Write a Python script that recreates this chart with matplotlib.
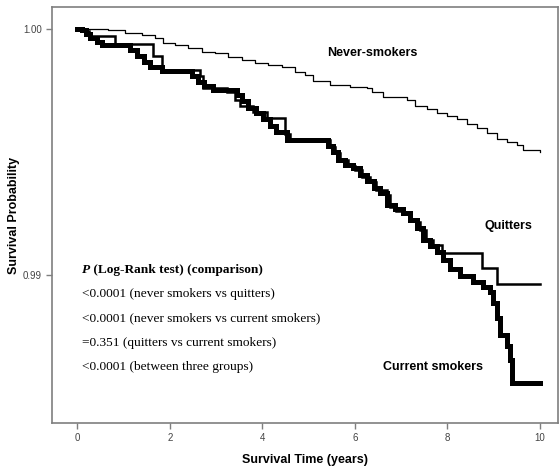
import numpy as np
import matplotlib
matplotlib.use('Agg')
import matplotlib.pyplot as plt

plt.rcParams['font.family'] = ['Liberation Sans', 'DejaVu Sans']

# Kaplan-Meier curves (years, survival probability)
never_t = [0, 0.38, 0.66, 1.03, 1.39, 1.68, 1.85, 2.11, 2.39, 2.69, 2.97, 3.25, 3.56, 3.84,
           4.12, 4.42, 4.70, 4.92, 5.09, 5.46, 5.89, 6.26, 6.37, 6.61, 7.12, 7.30, 7.56,
           7.77, 7.99, 8.21, 8.42, 8.64, 8.85, 9.07, 9.28, 9.50, 9.63, 10.0]
never_s = [1.0, 0.99998, 0.99994, 0.99984, 0.99976, 0.99963, 0.99943, 0.99935, 0.99923,
           0.99907, 0.99902, 0.99886, 0.99874, 0.99862, 0.99854, 0.99846, 0.99825, 0.99813,
           0.99789, 0.99772, 0.99764, 0.99760, 0.99744, 0.99724, 0.99711, 0.99687, 0.99675,
           0.99659, 0.99646, 0.99634, 0.99614, 0.99598, 0.99577, 0.99553, 0.99541, 0.99528,
           0.99508, 0.99500]

current_t = [0, 0.10, 0.18, 0.27, 0.42, 0.53, 1.14, 1.29, 1.44, 1.57, 1.83, 2.48, 2.61,
             2.74, 2.93, 3.45, 3.56, 3.69, 3.86, 4.01, 4.16, 4.29, 4.53, 5.42, 5.52, 5.63,
             5.78, 5.96, 6.11, 6.26, 6.41, 6.54, 6.69, 6.86, 7.04, 7.19, 7.34, 7.47, 7.62,
             7.77, 7.90, 8.05, 8.27, 8.55, 8.77, 8.92, 8.98, 9.07, 9.14, 9.29, 9.35, 9.39, 10.0]
current_s = [1.0, 0.99996, 0.99980, 0.99963, 0.99947, 0.99935, 0.99915, 0.99890, 0.99866,
             0.99846, 0.99829, 0.99809, 0.99785, 0.99768, 0.99752, 0.99732, 0.99707, 0.99679,
             0.99659, 0.99634, 0.99606, 0.99581, 0.99549, 0.99524, 0.99500, 0.99467, 0.99447,
             0.99435, 0.99407, 0.99382, 0.99354, 0.99333, 0.99285, 0.99268, 0.99252, 0.99224,
             0.99191, 0.99142, 0.99118, 0.99093, 0.99061, 0.99024, 0.98996, 0.98972, 0.98951,
             0.98931, 0.98886, 0.98825, 0.98756, 0.98711, 0.98654, 0.98561, 0.98561]

quit_t = [0, 0.12, 0.25, 0.81, 1.63, 1.83, 2.65, 2.71, 3.23, 3.41, 3.51, 3.79, 4.10, 4.49,
          4.59, 5.46, 5.57, 5.68, 5.85, 6.00, 6.15, 6.32, 6.45, 6.69, 6.76, 6.89, 7.04, 7.19,
          7.34, 7.41, 7.54, 7.68, 7.88, 8.74, 9.07, 10.0]
quit_s = [1.0, 0.99992, 0.99972, 0.99939, 0.99890, 0.99833, 0.99809, 0.99760, 0.99744,
          0.99711, 0.99687, 0.99663, 0.99638, 0.99573, 0.99549, 0.99520, 0.99496, 0.99467,
          0.99443, 0.99427, 0.99398, 0.99378, 0.99346, 0.99325, 0.99276, 0.99260, 0.99248,
          0.99224, 0.99215, 0.99183, 0.99142, 0.99122, 0.99089, 0.99028, 0.98963, 0.98963]

stats_lines = ['<0.0001 (never smokers vs quitters)',
               '<0.0001 (never smokers vs current smokers)',
               '=0.351 (quitters vs current smokers)',
               '<0.0001 (between three groups)']

fig = plt.figure(figsize=(5.59, 4.70), dpi=100)
ax = fig.add_axes([52/559, 47/470, 506/559, 416/470])

ax.plot(current_t, current_s, color='black', lw=3.6, drawstyle='steps-post',
        solid_joinstyle='miter')
ax.plot(quit_t, quit_s, color='black', lw=1.8, drawstyle='steps-post',
        solid_joinstyle='miter')
ax.plot(never_t, never_s, color='black', lw=0.9, drawstyle='steps-post')

ax.set_xlim(-0.551, 10.39)
ax.set_ylim(0.983984, 1.000894)
ax.set_xticks([0, 2, 4, 6, 8, 10])
ax.set_yticks([0.99, 1.00])
ax.set_yticklabels(['0.99', '1.00'])

for sp in ax.spines.values():
    sp.set_color('#7f7f7f')
    sp.set_linewidth(1.2)
ax.tick_params(direction='out', length=4, width=1, color='#7f7f7f',
               labelsize=7, labelcolor='#444444')

ax.set_xlabel('Survival Time (years)', fontsize=9, fontweight='bold')
ax.set_ylabel('Survival Probability', fontsize=9, fontweight='bold')
ax.xaxis.set_label_coords(0.5, -0.0745)
ax.yaxis.set_label_coords(-0.063, 0.5)

lab = dict(fontsize=9, fontweight='bold', va='center', ha='left')
ax.text(5.39, 0.99902, 'Never-smokers', **lab)
ax.text(8.79, 0.99199, 'Quitters', **lab)
ax.text(6.61, 0.98626, 'Current smokers', **lab)

serif = ['Liberation Serif', 'DejaVu Serif']
p = ax.text(0.10, 0.99020, 'P', family=serif, fontsize=9.6, fontweight='bold',
            fontstyle='italic', va='center', ha='left')
ax.annotate(' (Log-Rank test) (comparison)', xy=(1, 0), xycoords=p, va='bottom',
            ha='left', family=serif, fontsize=9.6, fontweight='bold')
ys = [0.98923, 0.98825, 0.98724, 0.98626]
for y, s in zip(ys, stats_lines):
    ax.text(0.10, y, s, family=serif, fontsize=9.6, va='center', ha='left')

fig.savefig('out.png', dpi=100)
